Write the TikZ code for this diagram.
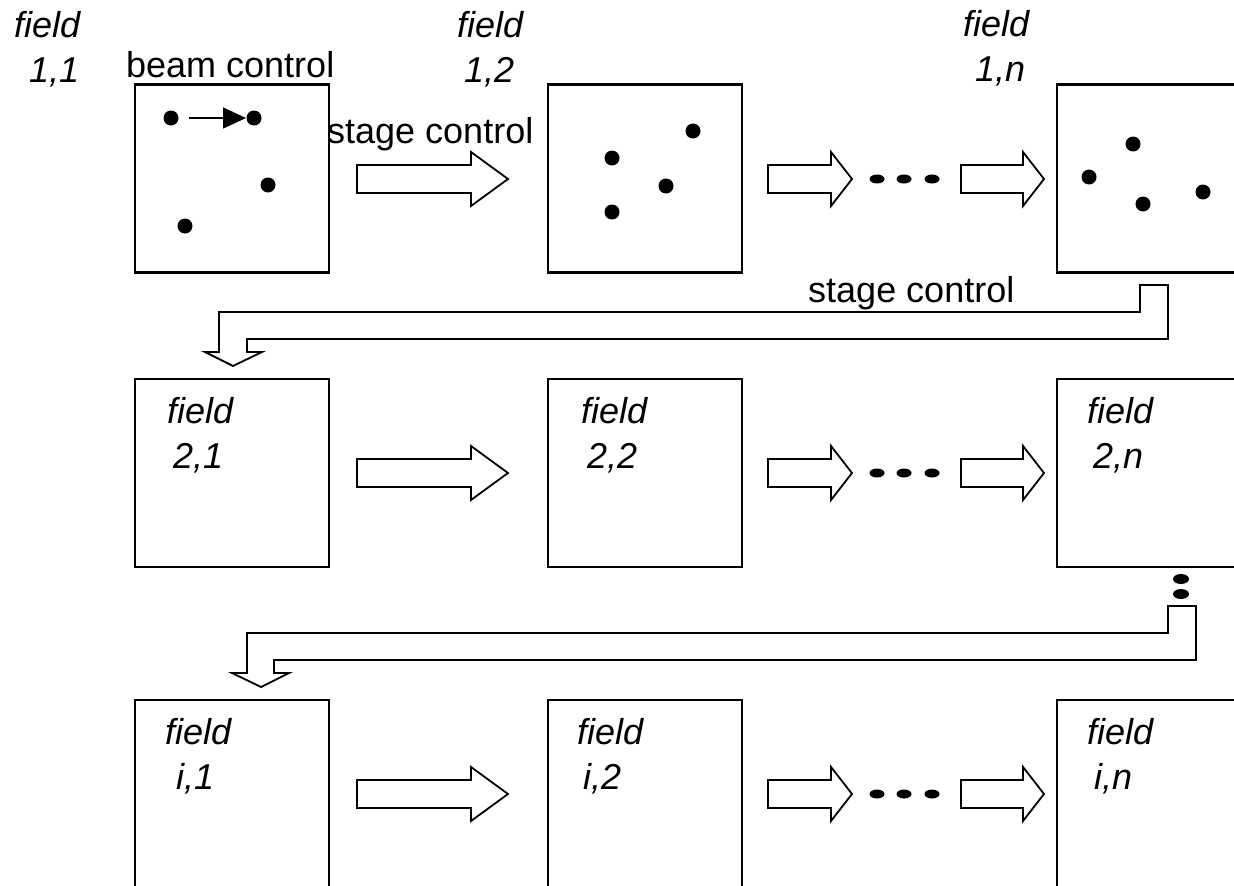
\documentclass[tikz,border=0pt]{standalone}
\usepackage{fontspec}
\setmainfont{Liberation Sans}
\usetikzlibrary{arrows.meta}

\tikzset{
  fieldbox/.style={draw, line width=2.4pt, minimum width=194pt, minimum height=188pt,
    inner sep=0pt, outer sep=0pt},
  lbl/.style={anchor=base west, inner sep=0pt, font=\fontsize{36}{43}\selectfont},
  ilbl/.style={lbl, font=\fontsize{36}{43}\selectfont\itshape},
  hollow/.style={draw, line width=1.8pt, fill=white, line join=miter},
  spot/.style={fill=black},
}

% hollow block arrow: shaft start, head start, tip, centre line
\newcommand{\blockarrow}[4]{%
  \draw[hollow] (#1,#4-14) -- (#2,#4-14) -- (#2,#4-27) -- (#3,#4)
     -- (#2,#4+27) -- (#2,#4+14) -- (#1,#4+14) -- cycle;}
% row of three dots
\newcommand{\ellipsisdots}[1]{%
  \foreach \dx in {877,904,932} \fill (\dx,#1) ellipse [x radius=7.5pt, y radius=4.5pt];}

\begin{document}
\begin{tikzpicture}[x=1pt, y=-1pt]
\clip (0,0) rectangle (1234,886);
\fill[white] (0,0) rectangle (1234,886);

% field boxes
\foreach \r/\cy in {1/178.5, 2/473, 3/794} {
  \node[fieldbox] (b\r1) at (232,\cy) {};
  \node[fieldbox] (b\r2) at (645,\cy) {};
  \node[fieldbox] (b\r n) at (1154,\cy) {};
}

% row 1 labels
\node[ilbl] (f11a) at (14,37) {field};
\node[ilbl] (f11b) at (29,82) {1,1};
\node[lbl] (beam) at (126,77) {beam control};
\node[ilbl] (f12a) at (457,37) {field};
\node[ilbl] (f12b) at (464,82) {1,2};
\node[ilbl] (f1na) at (963,36) {field};
\node[ilbl] (f1nb) at (975,81) {1,n};
\node[lbl] (stage1) at (327,143) {stage control};
\node[lbl] (stage2) at (808,302) {stage control};

% row 2 labels
\node[ilbl] (f21a) at (167,423) {field};
\node[ilbl] (f21b) at (173,468) {2,1};
\node[ilbl] (f22a) at (581,423) {field};
\node[ilbl] (f22b) at (587,468) {2,2};
\node[ilbl] (f2na) at (1087,423) {field};
\node[ilbl] (f2nb) at (1093,468) {2,n};

% row 3 labels
\node[ilbl] (f31a) at (165,744) {field};
\node[ilbl] (f31b) at (176,789) {i,1};
\node[ilbl] (f32a) at (577,744) {field};
\node[ilbl] (f32b) at (583,789) {i,2};
\node[ilbl] (f3na) at (1087,744) {field};
\node[ilbl] (f3nb) at (1094,789) {i,n};

% spots inside the first row of fields
\foreach \px/\py in {171/118, 254/118, 268/185, 185/226,
                     612/158, 693/131, 666/186, 612/212,
                     1133/144, 1089/177, 1143/204, 1203/192}
  \fill[spot] (\px,\py) circle [radius=7.5pt];

% beam deflection arrow
\coordinate (bs) at (189,118);
\coordinate (be) at (246,118);
\draw[line width=1.5pt, -{Triangle[length=23pt, width=21pt]}] (bs) -- (be);

% block arrows between fields
\foreach \yy in {179, 473, 794} {
  \blockarrow{357}{471}{508}{\yy}
  \blockarrow{768}{831}{852}{\yy}
  \blockarrow{961}{1023}{1044}{\yy}
  \ellipsisdots{\yy}
}

% vertical dots below field 2,n
\fill (1181,579) ellipse [x radius=8pt, y radius=5pt];
\fill (1181,594) ellipse [x radius=8pt, y radius=5pt];

% return path from field 1,n to field 2,1
\draw[hollow] (1140,285) -- (1168,285) -- (1168,339) -- (247,339) -- (247,352)
  -- (262,352) -- (233,366) -- (205,352) -- (219,352) -- (219,312) -- (1140,312) -- cycle;

% return path from field 2,n to field i,1
\draw[hollow] (1168,606) -- (1196,606) -- (1196,660) -- (274,660) -- (274,673)
  -- (289,673) -- (261,687) -- (232,673) -- (247,673) -- (247,633) -- (1168,633) -- cycle;
\end{tikzpicture}
\end{document}
